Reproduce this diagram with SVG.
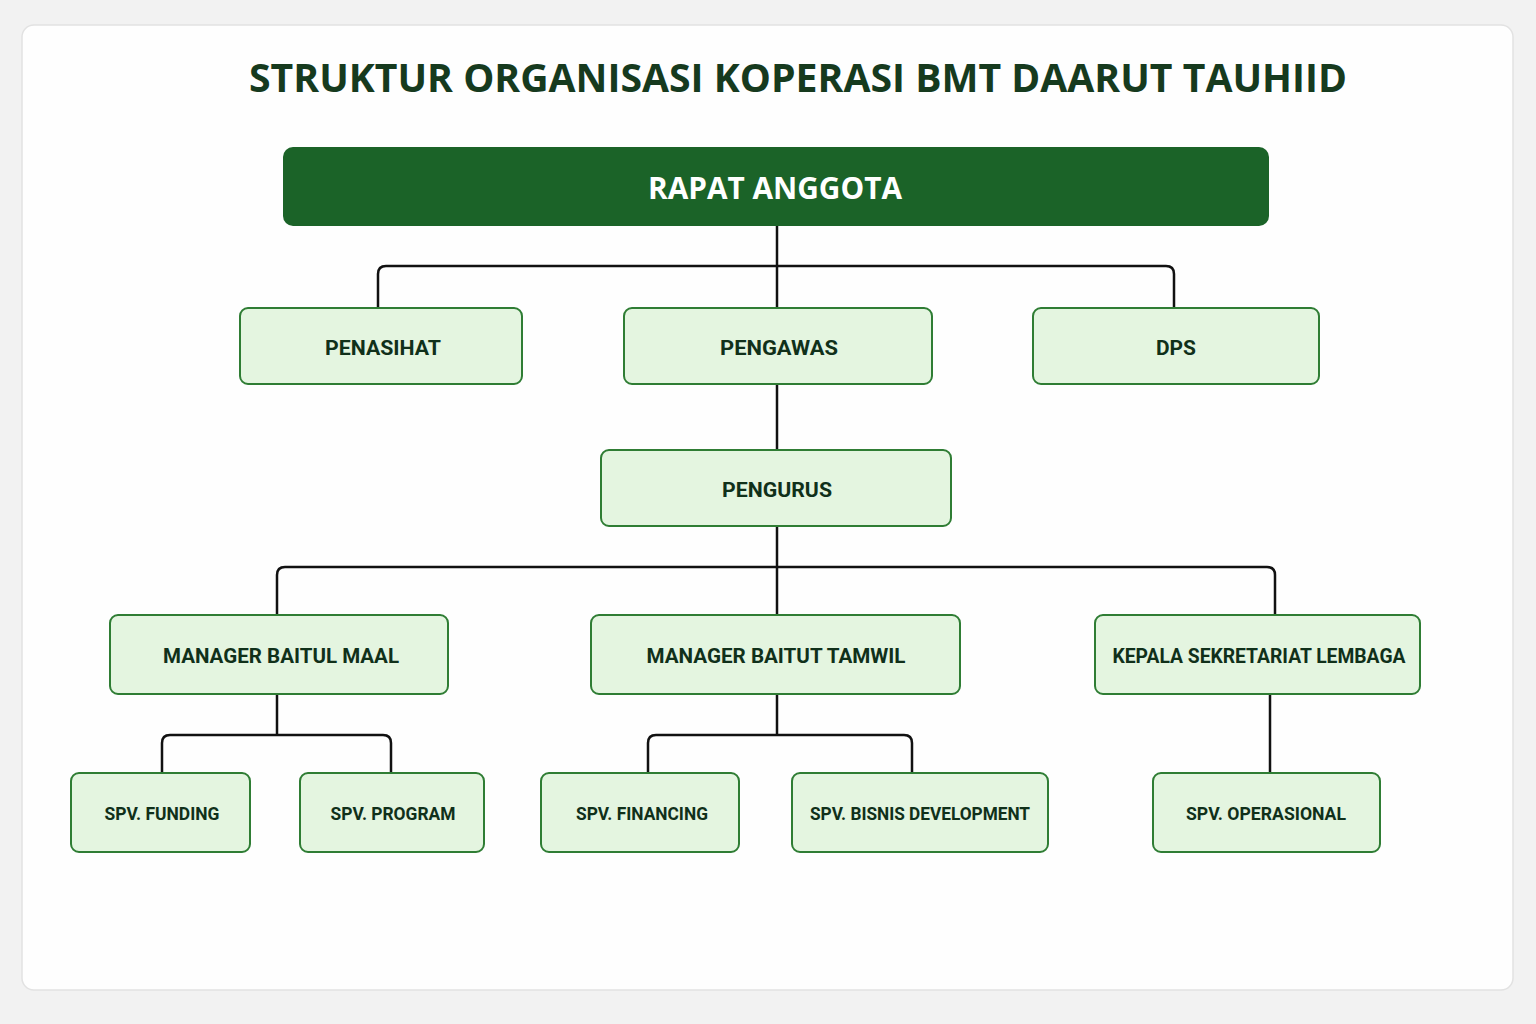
<svg xmlns="http://www.w3.org/2000/svg" width="1536" height="1024" viewBox="0 0 1536 1024">
<style>
.n rect{fill:#e4f5e0;stroke:#2f7d34;stroke-width:2}
.n text{font-family:Roboto,"Liberation Sans",sans-serif;font-weight:bold;font-size:20px;fill:#10301a;text-anchor:middle}
.s text{font-size:18px}
#conn path{fill:none;stroke:#111;stroke-width:2.5}
</style>
<rect width="1536" height="1024" fill="#f2f2f2"/>
<rect x="22" y="25" width="1491" height="965" rx="12" fill="#fefefe" stroke="#e2e2e2" stroke-width="1.5"/>
<text x="798" y="92" text-anchor="middle" font-family="'Open Sans','Noto Sans',sans-serif" font-weight="bold" font-size="40" fill="#163a1e" textLength="1098" lengthAdjust="spacingAndGlyphs">STRUKTUR ORGANISASI KOPERASI BMT DAARUT TAUHIID</text>
<g id="conn">
<path d="M777 226V308"/>
<path d="M378 308V274Q378 266 386 266H1166Q1174 266 1174 274V308"/>
<path d="M777 384V450"/>
<path d="M777 526V615"/>
<path d="M277 615V575Q277 567 285 567H1267Q1275 567 1275 575V615"/>
<path d="M277 694V735"/>
<path d="M162 773V743Q162 735 170 735H383Q391 735 391 743V773"/>
<path d="M777 694V735"/>
<path d="M648 773V743Q648 735 656 735H904Q912 735 912 743V773"/>
<path d="M1270 694V773"/>
</g>
<g id="rapat"><rect x="283" y="147" width="986" height="79" rx="10" fill="#1b6328"/>
<text x="775" y="199" text-anchor="middle" font-family="'Open Sans','Noto Sans',sans-serif" font-weight="bold" font-size="30" fill="#fff" textLength="254" lengthAdjust="spacingAndGlyphs">RAPAT ANGGOTA</text></g>
<g id="penasihat" class="n"><rect x="240" y="308" width="282" height="76" rx="8"/><text x="383" y="355" textLength="116" lengthAdjust="spacingAndGlyphs">PENASIHAT</text></g>
<g id="pengawas" class="n"><rect x="624" y="308" width="308" height="76" rx="8"/><text x="779" y="355" textLength="118" lengthAdjust="spacingAndGlyphs">PENGAWAS</text></g>
<g id="dps" class="n"><rect x="1033" y="308" width="286" height="76" rx="8"/><text x="1176" y="355" textLength="40" lengthAdjust="spacingAndGlyphs">DPS</text></g>
<g id="pengurus" class="n"><rect x="601" y="450" width="350" height="76" rx="8"/><text x="777" y="497" textLength="110" lengthAdjust="spacingAndGlyphs">PENGURUS</text></g>
<g id="maal" class="n"><rect x="110" y="615" width="338" height="79" rx="8"/><text x="281" y="663" textLength="236" lengthAdjust="spacingAndGlyphs">MANAGER BAITUL MAAL</text></g>
<g id="tamwil" class="n"><rect x="591" y="615" width="369" height="79" rx="8"/><text x="776" y="663" textLength="259" lengthAdjust="spacingAndGlyphs">MANAGER BAITUT TAMWIL</text></g>
<g id="kepala" class="n"><rect x="1095" y="615" width="325" height="79" rx="8"/><text x="1259" y="663" textLength="293" lengthAdjust="spacingAndGlyphs">KEPALA SEKRETARIAT LEMBAGA</text></g>
<g id="funding" class="n s"><rect x="71" y="773" width="179" height="79" rx="8"/><text x="162" y="820" textLength="115" lengthAdjust="spacingAndGlyphs">SPV. FUNDING</text></g>
<g id="program" class="n s"><rect x="300" y="773" width="184" height="79" rx="8"/><text x="393" y="820" textLength="125" lengthAdjust="spacingAndGlyphs">SPV. PROGRAM</text></g>
<g id="financing" class="n s"><rect x="541" y="773" width="198" height="79" rx="8"/><text x="642" y="820" textLength="132" lengthAdjust="spacingAndGlyphs">SPV. FINANCING</text></g>
<g id="bisnis" class="n s"><rect x="792" y="773" width="256" height="79" rx="8"/><text x="920" y="820" textLength="220" lengthAdjust="spacingAndGlyphs">SPV. BISNIS DEVELOPMENT</text></g>
<g id="operasional" class="n s"><rect x="1153" y="773" width="227" height="79" rx="8"/><text x="1266" y="820" textLength="160" lengthAdjust="spacingAndGlyphs">SPV. OPERASIONAL</text></g>
</svg>
